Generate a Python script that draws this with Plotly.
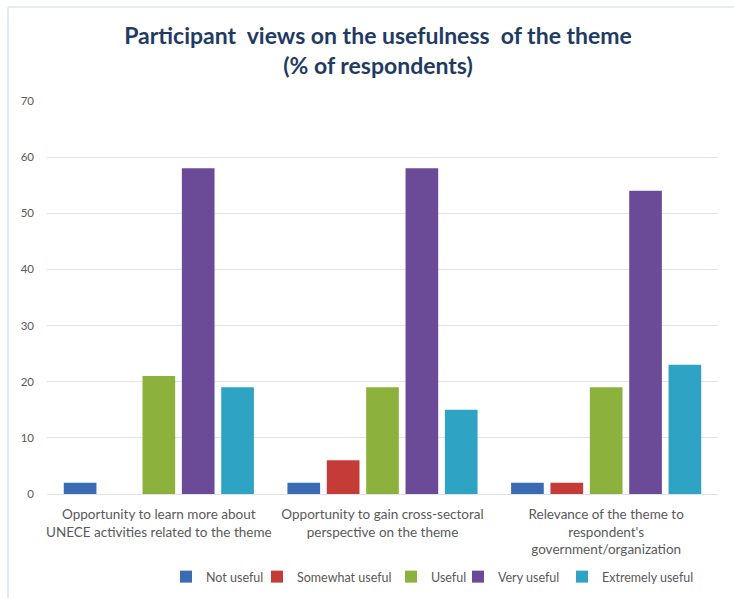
import plotly.graph_objects as go

# Survey results: share of respondents (%) per rating, for each aspect of the theme
categories = [
    "Opportunity to learn more about<br>UNECE activities related to the theme",
    "Opportunity to gain cross-sectoral<br>perspective on the theme",
    "Relevance of the theme to<br>respondent's<br>government/organization",
]
not_useful = [2, 2, 2]
somewhat_useful = [0, 6, 2]
useful = [21, 19, 19]
very_useful = [58, 58, 54]
extremely_useful = [19, 15, 23]

series = [
    ("Not useful", not_useful, "#3a6bb3"),
    ("Somewhat useful", somewhat_useful, "#c43b38"),
    ("Useful", useful, "#8cb23d"),
    ("Very useful", very_useful, "#6b4b97"),
    ("Extremely useful", extremely_useful, "#2ea3c4"),
]
# left edge (px) of each legend entry along the bottom row
legend_x = [166, 257, 391, 458, 562]

W, H = 734, 598
L, R, T, B = 47, 16, 101, 104
PW, PH = W - L - R, H - T - B

fig = go.Figure()
legend_layout = {}
for i, (name, vals, color) in enumerate(series):
    key = "legend" if i == 0 else f"legend{i + 1}"
    fig.add_trace(go.Bar(
        name=name, x=categories, y=vals, legend=key,
        marker=dict(color=color, line=dict(width=0)),
    ))
    legend_layout[key] = dict(
        orientation="h", xref="container", yref="container",
        x=legend_x[i] / W, xanchor="left",
        y=1 - 577 / H, yanchor="middle",
        font=dict(size=12.5, color="#595959"),
        itemwidth=30, bgcolor="rgba(0,0,0,0)",
    )

grid = "#dde4ee"
fig.update_layout(
    width=W, height=H,
    margin=dict(l=L, r=R, t=T, b=B, autoexpand=False),
    paper_bgcolor="white", plot_bgcolor="white",
    barmode="group", bargap=0.12, bargroupgap=0.17,
    font=dict(family="Lato, Open Sans, sans-serif", color="#595959", size=12),
    title=dict(
        text="Participant  views on the usefulness  of the theme<br>(% of respondents)",
        x=378 / W, xanchor="center",
        y=1 - 44 / H, yanchor="top",
        font=dict(family="Lato, Open Sans, sans-serif", size=23, color="#1f3b64", weight="bold"),
    ),
    xaxis=dict(
        showgrid=False, showline=True, linecolor=grid, linewidth=1,
        ticks="", ticklabelstandoff=8, tickfont=dict(size=13.5, color="#595959"),
    ),
    yaxis=dict(
        range=[0, 70], dtick=10, showgrid=True, gridcolor=grid, gridwidth=1,
        zeroline=False, showline=False, ticks="", ticklabelstandoff=12,
        tickfont=dict(size=11.5, color="#595959"),
    ),
    showlegend=True,
    **legend_layout,
)

# Light frame lines along the top and left of the chart
frame = dict(color="#dfe5ee", width=1.5)
fig.add_shape(type="line", xref="paper", yref="paper",
              x0=(8 - L) / PW, x1=(W + 5 - L) / PW,
              y0=1 + (T - 7) / PH, y1=1 + (T - 7) / PH, line=frame, layer="below")
fig.add_shape(type="line", xref="paper", yref="paper",
              x0=(8 - L) / PW, x1=(8 - L) / PW,
              y0=-(H + 5 - (H - B)) / PH, y1=1 + (T - 7) / PH, line=frame, layer="below")

fig.write_html("out.html")
